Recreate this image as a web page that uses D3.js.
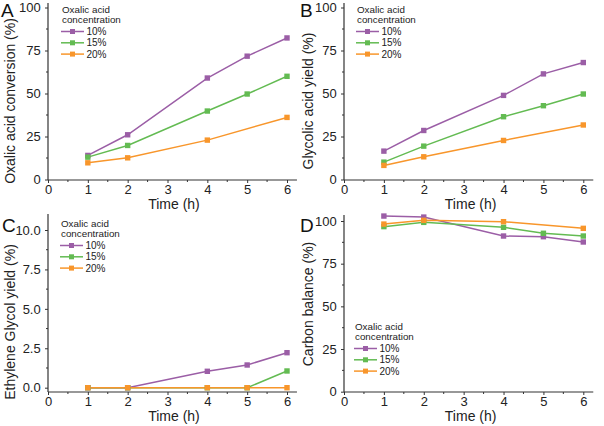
<!DOCTYPE html>
<html><head><meta charset="utf-8">
<script src="https://cdn.jsdelivr.net/npm/d3@7"></script>
<style>body{margin:0;background:#fff}svg{display:block}text{font-family:Arial,"Liberation Sans",sans-serif}</style>
</head><body><svg id="c" width="604" height="426"></svg>
<script>
const seriesNames = ["10%", "15%", "20%"];
const colors = ["#9b5ea6", "#63bb52", "#f8962b"];
const legendTitle = ["Oxalic acid", "concentration"];
const xTicks = [0, 1, 2, 3, 4, 5, 6];

// Panel A: Oxalic acid conversion
const aX = [[1,2,4,5,6],[1,2,4,5,6],[1,2,4,6]];
const aY = [[14,26,59,71.7,82.3],[13,19.8,39.8,49.7,60],[9.7,12.6,22.9,36.1]];
// Panel B: Glycolic acid yield
const bX = [[1,2,4,5,6],[1,2,4,5,6],[1,2,4,6]];
const bY = [[16.5,28.5,48.9,61.4,68],[10.1,19.4,36.5,42.9,49.7],[8.2,13.2,22.7,31.7]];
// Panel C: Ethylene glycol yield
const cX = [[1,2,4,5,6],[1,2,4,5,6],[1,2,4,5,6]];
const cY = [[0,0,1.04,1.44,2.22],[0,0,0,0,1.06],[0,0,0,0,0]];
// Panel D: Carbon balance
const dX = [[1,2,4,5,6],[1,2,4,5,6],[1,2,4,6]];
const dY = [[102.9,102.3,91.2,90.8,87.7],[96.7,99.2,96.3,92.8,91.2],[98.2,100.4,99.6,95.7]];

const ticksAB = [0,25,50,75,100];
const ticksC = [0,2.5,5,7.5,10];
const ticksD = [0,25,50,75,100];

const panels = [
  {letter:"A", ox:48, x6:287, y0:179.5, yTop:3, yMax:103, yValTop:100, yPixTop:7.5, xs:aX, ys:aY, ticks:ticksAB, fmt:d3.format("d"), ylab:"Oxalic acid conversion (%)", ylabX:15, ylabY:101, axisY:180, xlabDx:1.5, leg:{x:61,y:11}, letterX:1, letterY:17},
  {letter:"B", ox:344, x6:583.3, y0:179.5, yTop:3, yMax:103, yValTop:100, yPixTop:7.5, xs:bX, ys:bY, ticks:ticksAB, fmt:d3.format("d"), ylab:"Glycolic acid yield (%)", ylabX:313, ylabY:101, axisY:180, xlabDx:2, leg:{x:356,y:11}, letterX:300, letterY:17},
  {letter:"C", ox:48, x6:287, y0:387.7, yTop:214, yMax:11, yValTop:10, yPixTop:230, xs:cX, ys:cY, ticks:ticksC, fmt:d3.format(".1f"), ylab:"Ethylene Glycol yield (%)", ylabX:15, ylabY:322, axisY:392, xlabDx:1.5, leg:{x:60,y:225}, letterX:2, letterY:232},
  {letter:"D", ox:344, x6:583.3, y0:391.7, yTop:215, yMax:103.5, yValTop:100, yPixTop:221, xs:dX, ys:dY, ticks:ticksD, fmt:d3.format("d"), ylab:"Carbon balance (%)", ylabX:313, ylabY:304, axisY:392, xlabDx:2, leg:{x:354,y:328}, letterX:300, letterY:232}
];

const svg = d3.select("#c");

panels.forEach(p => {
  const unit = (p.x6 - p.ox) / 6;
  const x = d3.scaleLinear().domain([0, 6.25]).range([p.ox, p.ox + 6.25*unit]);
  const yPer = (p.y0 - p.yPixTop) / p.yValTop;
  const y = d3.scaleLinear().domain([0, p.yMax]).range([p.y0, p.y0 - p.yMax*yPer]);
  const g = svg.append("g");

  // x axis
  const xa = g.append("g").attr("transform", `translate(0,${p.axisY})`)
    .call(d3.axisBottom(x).tickValues(xTicks).tickFormat(d3.format("d")).tickSize(3).tickSizeOuter(0));
  xa.select(".domain").attr("d", `M${p.ox},0H${x(6.25)}`).attr("stroke","#333").attr("stroke-width",1.2);
  xa.selectAll(".tick line").attr("stroke","#333");
  xa.selectAll(".tick text").attr("font-size",13).attr("fill","#222").attr("y",4.5);
  xa.selectAll(".minor").data(d3.range(0.5, 6.25, 1)).enter().append("line")
    .attr("x1", d=>x(d)).attr("x2", d=>x(d)).attr("y1",0).attr("y2",2).attr("stroke","#333");

  // y axis
  const ya = g.append("g").attr("transform", `translate(${p.ox},0)`)
    .call(d3.axisLeft(y).tickValues(p.ticks).tickFormat(p.fmt).tickSize(3).tickSizeOuter(0));
  ya.select(".domain").attr("d", `M0,${p.axisY}V${p.yTop}`).attr("stroke","#333").attr("stroke-width",1.2);
  ya.selectAll(".tick line").attr("stroke","#333");
  ya.selectAll(".tick text").attr("font-size",13).attr("fill","#222").attr("dx","-0.1em");
  const step = p.ticks[1]-p.ticks[0];
  ya.selectAll(".minor").data(p.ticks.map(t=>t+step/2).filter(v=>v<p.yMax)).enter().append("line")
    .attr("y1", d=>y(d)).attr("y2", d=>y(d)).attr("x1",0).attr("x2",-2).attr("stroke","#333");

  // x label
  g.append("text").attr("x", (p.ox + x(6.25))/2 + p.xlabDx).attr("y", p.axisY + 29)
    .attr("text-anchor","middle").attr("font-size",14).attr("fill","#222").text("Time (h)");
  // y label
  g.append("text").attr("transform", `translate(${p.ylabX},${p.ylabY}) rotate(-90)`)
    .attr("text-anchor","middle").attr("font-size",14).attr("fill","#222").text(p.ylab);
  // letter
  g.append("text").attr("x", p.letterX).attr("y", p.letterY).attr("font-size",19).attr("fill","#111").text(p.letter);

  // lines
  const line = d3.line().x(d=>x(d[0])).y(d=>y(d[1]));
  p.xs.forEach((xs, i) => {
    const pts = xs.map((xv, j) => [xv, p.ys[i][j]]);
    g.append("path").attr("d", line(pts)).attr("fill","none").attr("stroke", colors[i]).attr("stroke-width",1.5);
  });
  p.xs.forEach((xs, i) => {
    const pts = xs.map((xv, j) => [xv, p.ys[i][j]]);
    g.selectAll(null).data(pts).enter().append("rect")
      .attr("x", d=>x(d[0])-2.7).attr("y", d=>y(d[1])-2.7).attr("width",5.4).attr("height",5.4)
      .attr("fill", colors[i]);
  });

  // legend
  const lg = g.append("g").attr("transform", `translate(${p.leg.x},${p.leg.y})`);
  legendTitle.forEach((t, k) => lg.append("text").attr("x", 1).attr("y", k*10.5 + 1.5).attr("font-size",9.8).attr("fill","#222").text(t));
  seriesNames.forEach((s, i) => {
    const yy = 20.5 + i*11.3;
    lg.append("line").attr("x1",0).attr("x2",23).attr("y1",yy).attr("y2",yy).attr("stroke",colors[i]).attr("stroke-width",1.5);
    lg.append("rect").attr("x",9).attr("y",yy-2.5).attr("width",5).attr("height",5).attr("fill",colors[i]);
    lg.append("text").attr("x",25.5).attr("y",yy+3.5).attr("font-size",10).attr("fill","#222").text(s);
  });
});
</script></body></html>
